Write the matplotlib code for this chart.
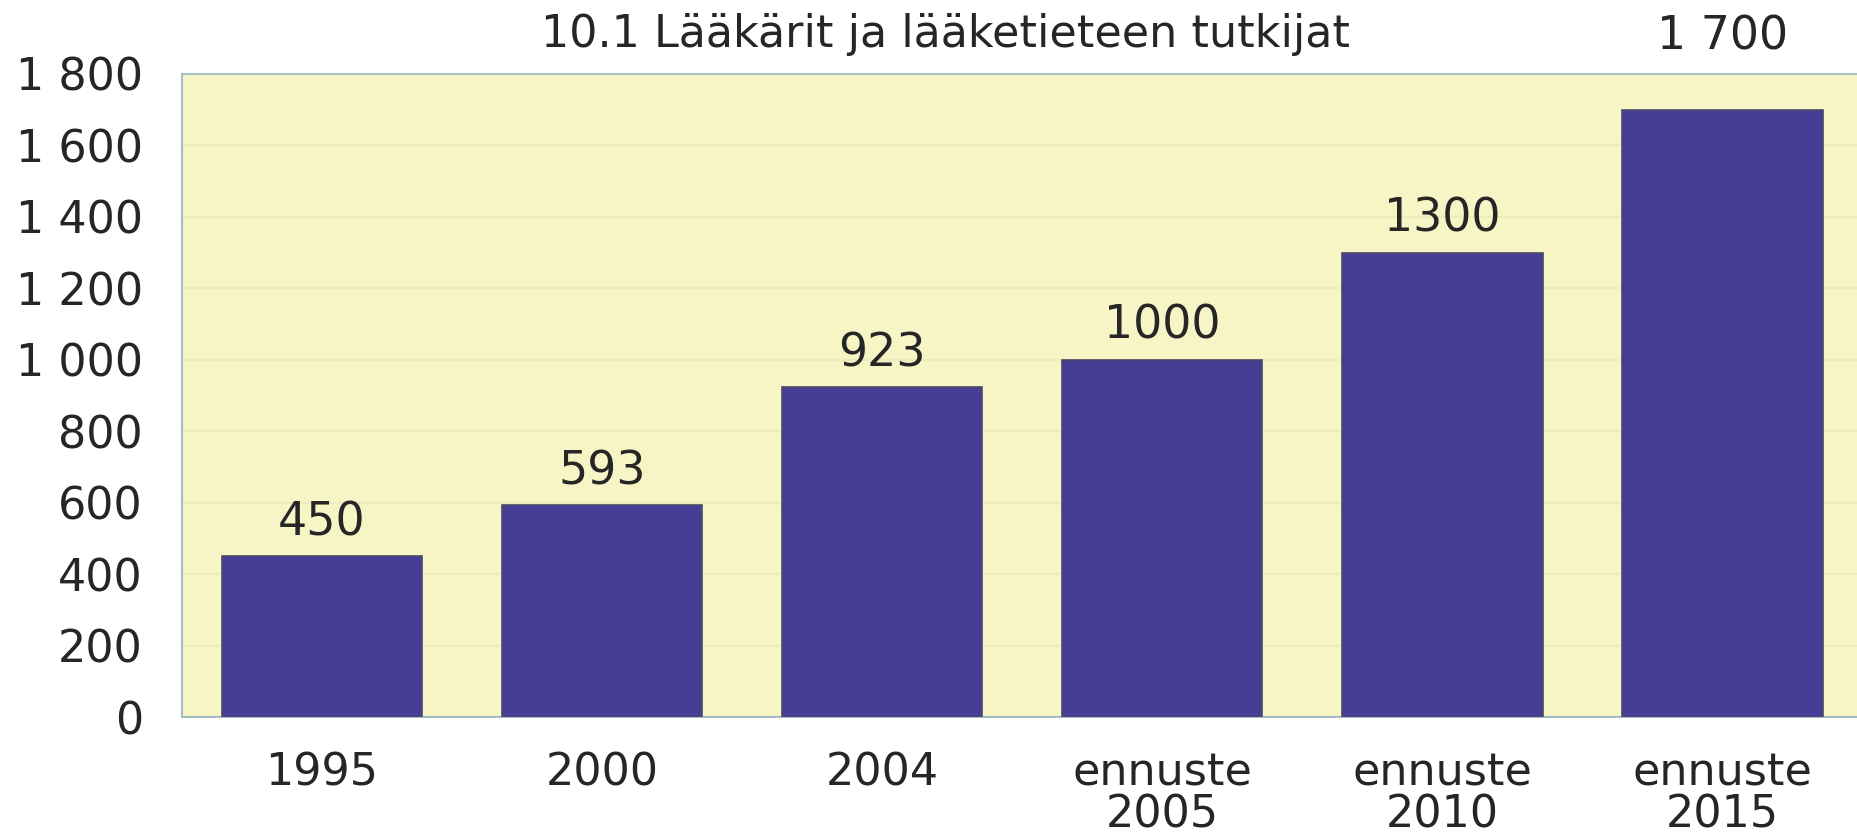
import matplotlib
matplotlib.use("Agg")
import matplotlib.pyplot as plt
from matplotlib.ticker import FuncFormatter, MultipleLocator

# data
categories = ["1995", "2000", "2004", "ennuste\n2005", "ennuste\n2010", "ennuste\n2015"]
values = [450, 593, 923, 1000, 1300, 1700]
value_labels = ["450", "593", "923", "1000", "1300", "1 700"]
title = "10.1 Lääkärit ja lääketieteen tutkijat"

BG = "#F7F5C5"
BAR = "#463D96"
TXT = "#262626"
SPINE = "#A6BCC6"

plt.rcParams.update({"font.family": "DejaVu Sans", "font.size": 32})

fig = plt.figure(figsize=(18.57, 8.35), dpi=100)
ax = fig.add_axes([0.098, 0.1413, 0.902, 0.7701])
ax.set_facecolor(BG)

xs = range(len(values))
bars = ax.bar(xs, values, width=0.715, color=BAR, edgecolor="#4a4a66",
              linewidth=1.2, zorder=3)

# value labels; the last one sits above the plot area like in the original
for i, (b, lab) in enumerate(zip(bars, value_labels)):
    off = 43 if i == len(values) - 1 else 15
    ax.annotate(lab, (b.get_x() + b.get_width() / 2, b.get_height()),
                xytext=(0, off), textcoords="offset points",
                ha="center", va="baseline", fontsize=33, color=TXT,
                annotation_clip=False)

ax.set_xlim(-0.5, 5.48)
ax.set_ylim(0, 1800)
ax.yaxis.set_major_locator(MultipleLocator(200))
ax.yaxis.set_major_formatter(
    FuncFormatter(lambda v, p: f"{v:,.0f}".replace(",", " ")))
ax.set_xticks(list(xs))
ax.set_xticklabels(categories, linespacing=0.95)
ax.tick_params(axis="y", length=0, pad=28, labelsize=32, labelcolor=TXT)
ax.tick_params(axis="x", length=0, pad=25, labelsize=32, labelcolor=TXT)

ax.grid(axis="y", color="#EEECBD", linewidth=1.5, zorder=0)
ax.set_axisbelow(True)
for side in ["top", "left", "bottom"]:
    ax.spines[side].set_color(SPINE)
    ax.spines[side].set_linewidth(1.5)
ax.spines["right"].set_visible(False)

fig.text(0.509, 1 - 47 / 835, title, ha="center", va="baseline",
         fontsize=32, color=TXT)

fig.savefig("out.png", dpi=100, facecolor="white")
